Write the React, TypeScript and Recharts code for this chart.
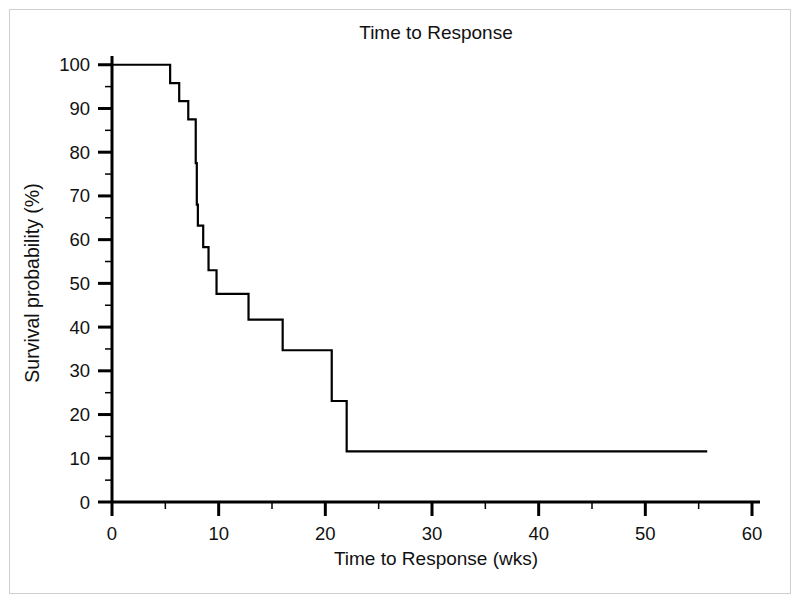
import { LineChart, Line, XAxis, YAxis, Label } from "recharts"

const weeks = [0, 5.45, 6.3, 7.15, 7.85, 7.95, 8.05, 8.55, 9.05, 9.8, 12.8, 16.0, 20.6, 22.0, 55.8]
const survival = [100, 95.8, 91.7, 87.5, 77.5, 68, 63.2, 58.3, 53, 47.6, 41.7, 34.7, 23.1, 11.6, 11.6]
const xTicks = [0, 5, 10, 15, 20, 25, 30, 35, 40, 45, 50, 55, 60]
const yTicks = [0, 5, 10, 15, 20, 25, 30, 35, 40, 45, 50, 55, 60, 65, 70, 75, 80, 85, 90, 95, 100]

const data = weeks.map((t, i) => ({ t, s: survival[i] }))

const font = "'Liberation Sans', Arial, sans-serif"

function YTick(props: any) {
  const { x, y, payload } = props
  const major = payload.value % 10 === 0
  return (
    <g>
      <line x1={x - (major ? 14 : 7)} x2={x} y1={y} y2={y} stroke="#000" strokeWidth={major ? 3 : 1.5} />
      {major && (
        <text x={x - 22} y={y} textAnchor="end" dominantBaseline="central" fontSize={18.5} fontFamily={font} fill="#111">
          {payload.value}
        </text>
      )}
    </g>
  )
}

function XTick(props: any) {
  const { x, y, payload } = props
  const major = payload.value % 10 === 0
  return (
    <g>
      <line x1={x} x2={x} y1={y} y2={y + (major ? 14 : 7)} stroke="#000" strokeWidth={major ? 3 : 1.5} />
      {major && (
        <text x={x} y={y + 31} textAnchor="middle" dominantBaseline="central" fontSize={18.5} fontFamily={font} fill="#111">
          {payload.value}
        </text>
      )}
    </g>
  )
}

export default function App() {
  return (
    <div style={{ position: "absolute", left: 0, top: 0, width: 800, height: 603, background: "#fff" }}>
      <div
        style={{
          position: "absolute",
          left: 9,
          top: 9,
          width: 780,
          height: 583,
          border: "1.5px solid #cfcfcf",
        }}
      />
      <div
        style={{
          position: "absolute",
          left: 0,
          top: 22,
          width: 872,
          textAlign: "center",
          fontFamily: font,
          fontSize: 19,
          color: "#111",
        }}
      >
        Time to Response
      </div>
      <div style={{ position: "absolute", left: 0, top: 0 }}>
        <LineChart width={800} height={603} data={data} margin={{ top: 56, right: 40, bottom: 41, left: 0 }}>
          <XAxis
            dataKey="t"
            type="number"
            domain={[0, 60.75]}
            ticks={xTicks}
            interval={0}
            axisLine={{ stroke: "#000", strokeWidth: 3 }}
            tickLine={false}
            tickSize={0}
            tickMargin={0}
            tick={<XTick />}
            height={60}
          >
            <Label
              value="Time to Response (wks)"
              position="insideBottom"
              offset={-3}
              fontSize={19}
              fontFamily={font}
              fill="#111"
            />
          </XAxis>
          <YAxis
            type="number"
            domain={[0, 102]}
            ticks={yTicks}
            interval={0}
            width={112}
            axisLine={{ stroke: "#000", strokeWidth: 3 }}
            tickLine={false}
            tickSize={0}
            tickMargin={0}
            tick={<YTick />}
          >
            <Label
              value="Survival probability (%)"
              position="center"
              angle={-90}
              dx={-24}
              dy={4}
              fontSize={19.5}
              fontFamily={font}
              fill="#111"
            />
          </YAxis>
          <Line
            type="stepAfter"
            dataKey="s"
            stroke="#000"
            strokeWidth={2.2}
            dot={false}
            isAnimationActive={false}
          />
        </LineChart>
      </div>
    </div>
  )
}
